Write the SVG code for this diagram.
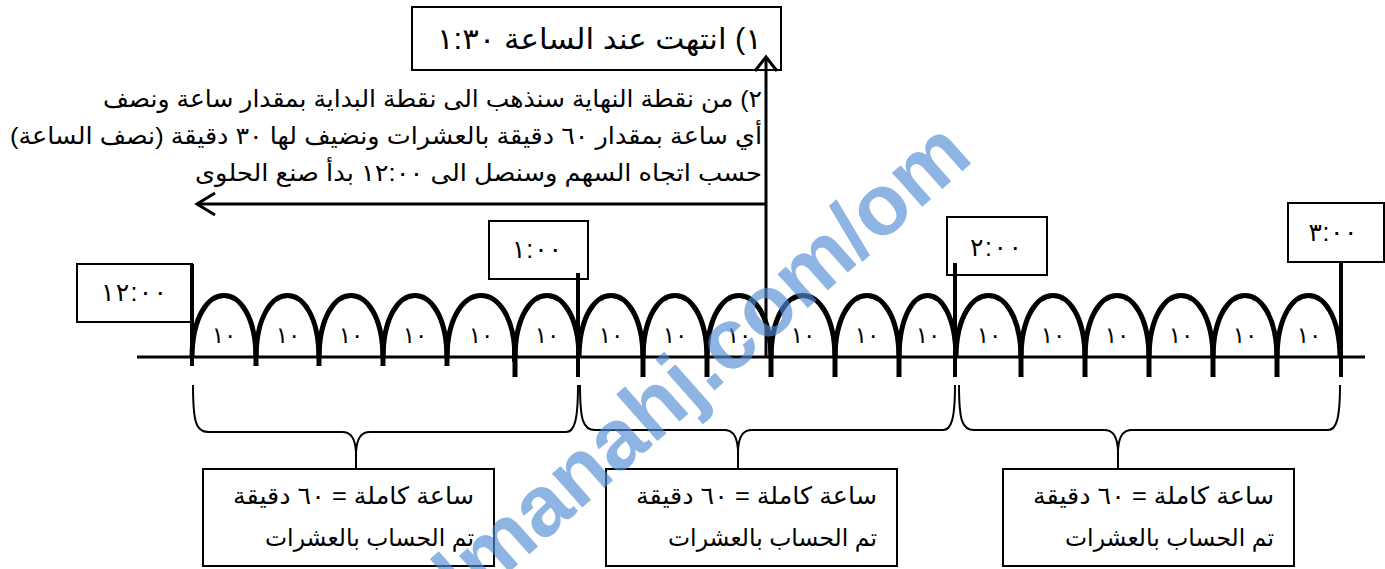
<svg xmlns="http://www.w3.org/2000/svg" width="1385" height="569" viewBox="0 0 1385 569">
<style>
.box{fill:#fff;stroke:#000;stroke-width:2}
.ar{font-family:"Liberation Sans","DejaVu Sans",sans-serif;fill:#000}
.rtl{direction:rtl;unicode-bidi:embed;text-anchor:start}
.num{font-family:"Liberation Sans","DejaVu Sans",sans-serif;font-size:23px;text-anchor:middle;fill:#000}
.hour{font-family:"Liberation Sans","DejaVu Sans",sans-serif;font-size:25px;text-anchor:middle;fill:#000}
.arc{fill:none;stroke:#000;stroke-width:5}
.stub{stroke:#000;stroke-width:5}
.tick{stroke:#000;stroke-width:4}
.brace{fill:none;stroke:#000;stroke-width:2}
.conn{fill:none;stroke:#000;stroke-width:3;stroke-linejoin:miter}
.wm{font-family:"Liberation Sans",sans-serif;font-weight:bold;font-size:86px;fill:#508cd2;fill-opacity:0.65}
</style>
<rect width="1385" height="569" fill="#fff"/>

<g id="end-box">
<rect class="box" x="412" y="7" width="369" height="63"/>
<text class="ar rtl" x="762" y="49" font-size="29" textLength="325" lengthAdjust="spacingAndGlyphs">١) انتهت عند الساعة ١:٣٠</text>
</g>

<g id="explanation">
<text class="ar rtl" x="762" y="107" font-size="24" textLength="659" lengthAdjust="spacingAndGlyphs">٢) من نقطة النهاية سنذهب الى نقطة البداية  بمقدار ساعة ونصف</text>
<text class="ar rtl" x="762" y="144" font-size="24" textLength="752" lengthAdjust="spacingAndGlyphs">أي ساعة بمقدار ٦٠ دقيقة بالعشرات ونضيف لها ٣٠ دقيقة (نصف الساعة)</text>
<text class="ar rtl" x="762" y="181" font-size="24" textLength="567" lengthAdjust="spacingAndGlyphs">حسب اتجاه السهم وسنصل الى ١٢:٠٠ بدأ صنع الحلوى</text>
</g>

<g id="timeline">
<line x1="137" y1="357" x2="1365" y2="357" stroke="#000" stroke-width="3"/>
<path class="arc" d="M192,357 C193,275 255,275 256,357 M256,357 C257,275 318,275 319,357 M319,357 C320,275 382,275 383,357 M383,357 C384,275 446,275 447,357 M447,357 C448,275 514,275 515,357 M515,357 C516,275 578,275 579,357 M579,357 C580,275 642,275 643,357 M643,357 C644,275 706,275 707,357 M707,357 C708,275 770,275 771,357 M771,357 C772,275 834,275 835,357 M835,357 C836,275 898,275 899,357 M899,357 C900,275 955,275 956,357 M956,357 C957,275 1020,275 1021,357 M1021,357 C1022,275 1084,275 1085,357 M1085,357 C1086,275 1148,275 1149,357 M1149,357 C1150,275 1212,275 1213,357 M1213,357 C1214,275 1276,275 1277,357 M1277,357 C1278,275 1339,275 1340,357"/>
<path class="stub" d="M256,345 V366 M319,345 V366 M383,345 V366 M447,345 V366 M515,345 V377 M643,345 V377 M707,345 V377 M771,345 V377 M835,345 V377 M899,345 V377 M1021,345 V377 M1085,345 V377 M1149,345 V377 M1213,345 V377 M1277,345 V377"/>
<line x1="513" y1="332" x2="513" y2="362" stroke="#000" stroke-width="2"/>
<g class="num">
<text x="224" y="343">١٠</text><text x="288" y="343">١٠</text><text x="351" y="343">١٠</text><text x="415" y="343">١٠</text><text x="481" y="343">١٠</text><text x="547" y="343">١٠</text>
<text x="611" y="343">١٠</text><text x="675" y="343">١٠</text><text x="739" y="343">١٠</text><text x="803" y="343">١٠</text><text x="867" y="343">١٠</text><text x="928" y="343">١٠</text>
<text x="989" y="343">١٠</text><text x="1053" y="343">١٠</text><text x="1117" y="343">١٠</text><text x="1181" y="343">١٠</text><text x="1245" y="343">١٠</text><text x="1309" y="343">١٠</text>
</g>
</g>

<g id="hour-12">
<rect class="box" x="77" y="264" width="115" height="58"/>
<line class="tick" x1="192" y1="264" x2="192" y2="366"/>
<text class="hour" x="134" y="301" textLength="66">١٢:٠٠</text>
</g>
<g id="hour-1">
<rect class="box" x="489" y="221" width="99" height="58"/>
<line class="tick" x1="578" y1="273" x2="578" y2="377"/>
<text class="hour" x="537" y="258" textLength="50">١:٠٠</text>
</g>
<g id="hour-2">
<rect class="box" x="947" y="217" width="100" height="58"/>
<line class="tick" x1="955" y1="263" x2="955" y2="377"/>
<text class="hour" x="996" y="256" textLength="52">٢:٠٠</text>
</g>
<g id="hour-3">
<rect class="box" x="1288" y="203" width="96" height="59"/>
<line class="tick" x1="1341" y1="262" x2="1341" y2="377"/>
<text class="hour" x="1333" y="241" textLength="49">٣:٠٠</text>
</g>

<g id="connectors">
<path class="conn" d="M766,58 V357"/>
<path class="conn" d="M755,71 L766,57 L777,71"/>
<path class="conn" d="M766,204 H197"/>
<path class="conn" stroke-width="4" d="M215,193 L197,204 L215,215"/>
<path class="brace" d="M193,385 C193,422 196,432 208,432 L342,432 C351,432 355,438 356,452 C357,438 361,432 370,432 L566,432 C574,432 578,422 578,385 M356,452 V477"/>
<path class="brace" d="M580,385 C580,420 583,430 595,430 L724,430 C733,430 737,436 738,450 C739,436 743,430 752,430 L943,430 C951,430 955,420 955,385 M738,450 V477"/>
<path class="brace" d="M959,385 C959,420 962,430 974,430 L1104,430 C1113,430 1117,436 1118,450 C1119,436 1123,430 1132,430 L1328,430 C1336,430 1340,420 1340,385 M1118,450 V477"/>
</g>

<g id="summary-1">
<rect class="box" x="203" y="469" width="291" height="97"/>
<text class="ar rtl" x="474" y="504" font-size="24" textLength="241" lengthAdjust="spacingAndGlyphs">ساعة كاملة = ٦٠ دقيقة</text>
<text class="ar rtl" x="474" y="546" font-size="24" textLength="209" lengthAdjust="spacingAndGlyphs">تم الحساب بالعشرات</text>
</g>
<g id="summary-2">
<rect class="box" x="606" y="469" width="291" height="97"/>
<text class="ar rtl" x="877" y="504" font-size="24" textLength="241" lengthAdjust="spacingAndGlyphs">ساعة كاملة = ٦٠ دقيقة</text>
<text class="ar rtl" x="877" y="546" font-size="24" textLength="209" lengthAdjust="spacingAndGlyphs">تم الحساب بالعشرات</text>
</g>
<g id="summary-3">
<rect class="box" x="1003" y="469" width="291" height="97"/>
<text class="ar rtl" x="1274" y="504" font-size="24" textLength="241" lengthAdjust="spacingAndGlyphs">ساعة كاملة = ٦٠ دقيقة</text>
<text class="ar rtl" x="1274" y="546" font-size="24" textLength="209" lengthAdjust="spacingAndGlyphs">تم الحساب بالعشرات</text>
</g>

<text class="wm" x="975" y="160" text-anchor="end" transform="rotate(-41.5 975 160)">almanahj.com/om</text>
</svg>
